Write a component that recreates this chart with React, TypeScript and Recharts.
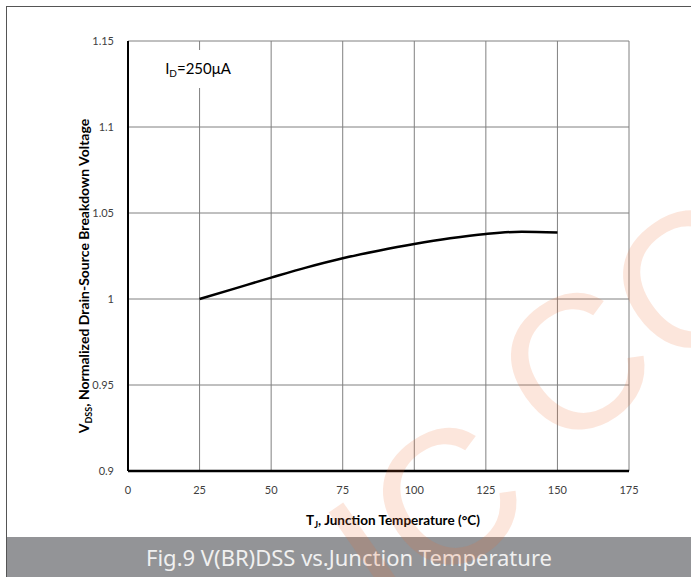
import React from 'react';
import { LineChart, Line, XAxis, YAxis, CartesianGrid } from 'recharts';

const temps = [25, 37.5, 50, 62.5, 75, 87.5, 100, 112.5, 125, 137.5, 150];
const bvdss = [1.0, 1.0062, 1.0124, 1.0184, 1.0237, 1.0281, 1.032, 1.0353, 1.0378, 1.0391, 1.0386];
const xTicks = [0, 25, 50, 75, 100, 125, 150, 175];
const yTicks = [0.9, 0.95, 1, 1.05, 1.1, 1.15];

const data = temps.map((t, i) => ({ t, v: bvdss[i] }));

const tickFont = { fontFamily: 'Lato, sans-serif', fontSize: 11, fill: '#404040' };

const XTitle = () => (
  <text x={393} y={525} textAnchor="middle" fontFamily="Lato, sans-serif" fontWeight="bold" fontSize={13.5} fill="#000">
    <tspan>T</tspan>
    <tspan fontSize={9} dy={3}>J</tspan>
    <tspan dy={-3}>, Junction Temperature (°C)</tspan>
  </text>
);

const YTitle = () => (
  <text
    x={0}
    y={0}
    transform="translate(89 276) rotate(-90)"
    textAnchor="middle"
    fontFamily="Lato, sans-serif"
    fontWeight="bold"
    fontSize={14}
    fill="#000"
  >
    <tspan>V</tspan>
    <tspan fontSize={9} dy={3}>DSS</tspan>
    <tspan dy={-3}>, Normalized Drain-Source Breakdown Voltage</tspan>
  </text>
);

const wmLetters = [
  { ch: 'I', x: 372, y: 559 },
  { ch: 'C', x: 445, y: 497 },
  { ch: 'C', x: 573, y: 362 },
  { ch: 'O', x: 690, y: 277 },
];

export default function App() {
  const F = 190;
  return (
    <div style={{ position: 'absolute', left: 0, top: 0, width: 691, height: 577, background: '#fff', overflow: 'hidden' }}>
      <LineChart width={691} height={577} data={data} margin={{ top: 41, right: 62, left: 0, bottom: 0 }}>
        <CartesianGrid stroke="#808080" strokeWidth={1} />
        <XAxis
          dataKey="t"
          type="number"
          domain={[0, 175]}
          ticks={xTicks}
          height={106}
          tickSize={0}
          tickMargin={15}
          tick={tickFont}
          axisLine={{ stroke: '#000', strokeWidth: 2.5 }}
          tickLine={false}
          label={{ content: () => <XTitle /> }}
        />
        <YAxis
          type="number"
          domain={[0.9, 1.15]}
          ticks={yTicks}
          width={128}
          tickSize={0}
          tickMargin={14}
          tick={tickFont}
          axisLine={{ stroke: '#000', strokeWidth: 2 }}
          tickLine={false}
          label={{ content: () => <YTitle /> }}
        />
        <Line
          dataKey="v"
          type="monotone"
          stroke="#000"
          strokeWidth={2.5}
          dot={false}
          isAnimationActive={false}
        />
      </LineChart>
      <div
        style={{
          position: 'absolute',
          left: 156,
          top: 50,
          width: 84,
          height: 38,
          background: '#fff',
          fontFamily: 'Lato, sans-serif',
          fontSize: 15,
          color: '#000',
          display: 'flex',
          alignItems: 'center',
          justifyContent: 'center',
        }}
      >
        <span>
          I<sub style={{ fontSize: 10, verticalAlign: -3 }}>D</sub>=250μA
        </span>
      </div>
      <div style={{ position: 'absolute', left: 6, top: 6, width: 685, height: 0, borderTop: '1.5px solid #555' }} />
      <div style={{ position: 'absolute', left: 6, top: 6, width: 0, height: 571, borderLeft: '1.5px solid #555' }} />
      <div
        style={{
          position: 'absolute',
          left: 7,
          top: 537,
          width: 684,
          height: 40,
          background: '#939497',
          color: '#f0f0f0',
          fontFamily: '"Noto Sans", sans-serif',
          fontSize: 22,
          display: 'flex',
          alignItems: 'center',
          justifyContent: 'center',
        }}
      >
        Fig.9 V(BR)DSS vs.Junction Temperature
      </div>
      <svg
        width={691}
        height={577}
        style={{ position: 'absolute', left: 0, top: 0, pointerEvents: 'none' }}
      >
        {wmLetters.map((l, i) => (
          <text
            key={i}
            x={l.x}
            y={l.y + 0.357 * F}
            textAnchor="middle"
            fontFamily='"Liberation Sans", sans-serif'
            fontSize={F}
            fill="rgb(235,105,45)"
            fillOpacity={0.17}
            transform={`rotate(-35 ${l.x} ${l.y})`}
          >
            {l.ch}
          </text>
        ))}
      </svg>
    </div>
  );
}
